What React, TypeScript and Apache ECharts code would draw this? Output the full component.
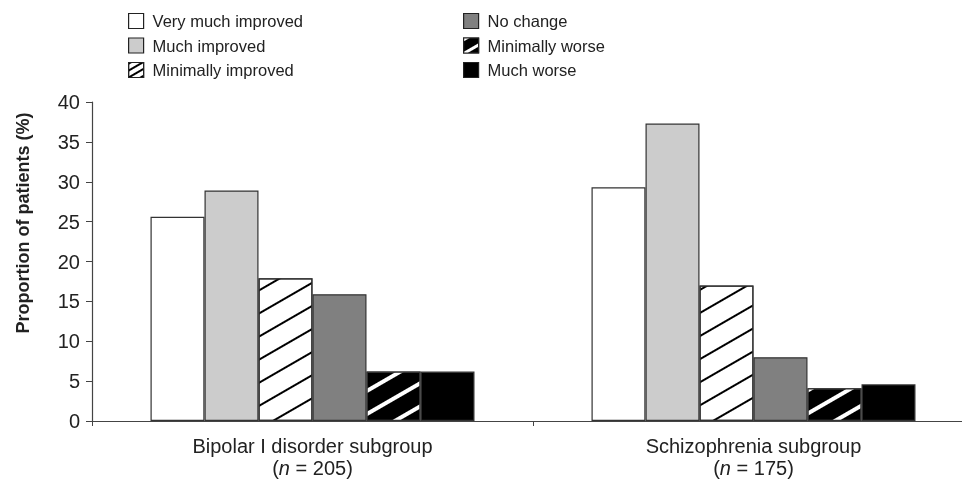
import React, { useEffect, useRef } from "react";
import * as echarts from "echarts";

const categories = ["Bipolar I disorder subgroup", "Schizophrenia subgroup"];
const sampleSizes = [205, 175];
const seriesNames = [
  "Very much improved",
  "Much improved",
  "Minimally improved",
  "No change",
  "Minimally worse",
  "Much worse",
];
const veryMuchImproved = [25.6, 29.3];
const muchImproved = [28.9, 37.3];
const minimallyImproved = [17.9, 17.0];
const noChange = [15.9, 8.0];
const minimallyWorse = [6.2, 4.1];
const muchWorse = [6.2, 4.6];
const yTicks = { min: 0, max: 40, interval: 5 };

const FONT = "'Liberation Sans', Arial, Helvetica, sans-serif";
const TEXT = "#222";
const AXIS = "#444";

function hatch(color: string, line: number, gap: number) {
  return {
    symbol: "rect",
    symbolSize: 1,
    dashArrayX: [1, 0],
    dashArrayY: [line, gap],
    rotation: -Math.PI / 6,
    color,
  };
}

export default function App() {
  const ref = useRef<HTMLDivElement>(null);
  useEffect(() => {
    if (!ref.current) return;
    const chart = echarts.init(ref.current, undefined, { renderer: "svg" });
    const values = [veryMuchImproved, muchImproved, minimallyImproved, noChange, minimallyWorse, muchWorse];
    const styles: any[] = [
      { color: "#ffffff" },
      { color: "#cccccc" },
      { color: "#ffffff", decal: hatch("#000000", 2, 18) },
      { color: "#808080" },
      { color: "#000000", decal: hatch("#ffffff", 4, 16) },
      { color: "#000000" },
    ];
    const legendStyles: any[] = [
      { color: "#ffffff" },
      { color: "#cccccc" },
      { color: "#ffffff", decal: hatch("#000000", 1.5, 4) },
      { color: "#808080" },
      { color: "#000000", decal: hatch("#ffffff", 3, 9) },
      { color: "#000000" },
    ];
    const series = seriesNames.map((name, i) => ({
      name,
      type: "bar",
      data: values[i],
      barWidth: 54,
      barGap: "0%",
      itemStyle: { ...styles[i], borderColor: "#333", borderWidth: 1.2 },
      emphasis: { disabled: true },
    }));
    const legendData = seriesNames.map((name, i) => ({
      name,
      itemStyle: { ...legendStyles[i], borderColor: "#222", borderWidth: 1.2 },
    }));
    const legendCommon = {
      orient: "vertical",
      icon: "rect",
      itemWidth: 15,
      itemHeight: 15,
      itemGap: 7.5,
      textStyle: { fontSize: 16.5, color: TEXT, fontFamily: FONT, padding: [0, 0, 0, 4] },
      selectedMode: false,
      top: 7.5,
    };
    chart.setOption({
      animation: false,
      textStyle: { fontFamily: FONT },
      grid: { left: 92, top: 102, height: 319, width: 882, containLabel: false, outerBoundsMode: "none" },
      legend: [
        { ...legendCommon, left: 123, data: legendData.slice(0, 3) },
        { ...legendCommon, left: 458, data: legendData.slice(3) },
      ],
      xAxis: {
        type: "category",
        data: categories,
        axisLine: { lineStyle: { color: AXIS, width: 1.2 } },
        axisTick: { show: true, length: 5, lineStyle: { color: AXIS } },
        axisLabel: {
          margin: 14,
          color: TEXT,
          fontSize: 20,
          lineHeight: 22,
          fontFamily: FONT,
          formatter: (v: string, idx: number) => `${v}\n({i|n} = ${sampleSizes[idx]})`,
          rich: { i: { fontStyle: "italic", fontSize: 20, lineHeight: 22, color: TEXT, fontFamily: FONT } },
        },
      },
      yAxis: {
        type: "value",
        min: yTicks.min,
        max: yTicks.max,
        interval: yTicks.interval,
        splitLine: { show: false },
        axisLine: { show: true, lineStyle: { color: AXIS, width: 1.2 } },
        axisTick: { show: true, length: 6, lineStyle: { color: AXIS } },
        axisLabel: { margin: 12, color: TEXT, fontSize: 20, fontFamily: FONT },
      },
      graphic: [
        {
          type: "text",
          x: 23,
          y: 223,
          rotation: Math.PI / 2,
          style: {
            text: "Proportion of patients (%)",
            fill: TEXT,
            font: `bold 18px ${FONT}`,
            align: "center",
            verticalAlign: "middle",
          },
        },
      ],
      series,
    });
    return () => chart.dispose();
  }, []);
  return <div ref={ref} style={{ position: "fixed", left: 0, top: 0, width: 962, height: 480 }} />;
}
